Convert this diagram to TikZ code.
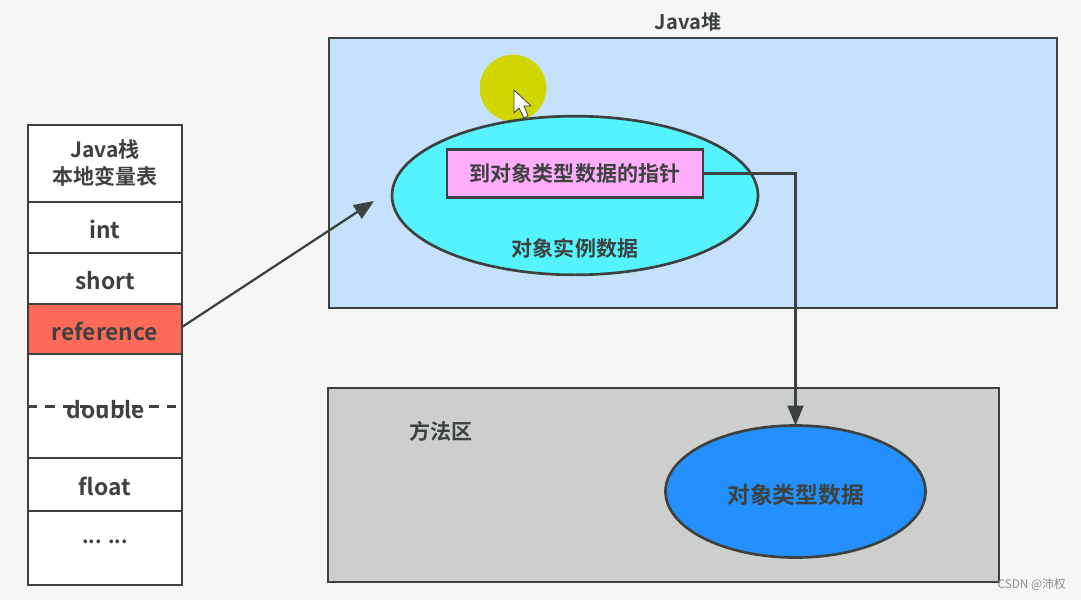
\documentclass[tikz,border=0pt]{standalone}
\usepackage{fontspec}
\setmainfont{Noto Sans CJK SC}[BoldFont={Noto Sans CJK SC Bold}]
\usetikzlibrary{arrows.meta,shapes.geometric}
\definecolor{bgc}{HTML}{F6F7F5}
\definecolor{ink}{HTML}{3E423F}
\definecolor{heap}{HTML}{C6E1FE}
\definecolor{method}{HTML}{CDCFCC}
\definecolor{cyanb}{HTML}{55F3FE}
\definecolor{pinkb}{HTML}{FEAEFC}
\definecolor{blueb}{HTML}{2490FD}
\definecolor{redb}{HTML}{FE6A59}
\definecolor{halo}{HTML}{CFD600}
\newcommand{\dnt}[1]{\raisebox{-1.5pt}[\height][\depth]{#1}}
\tikzset{
  x=0.75pt,y=-0.75pt,
  lbl/.style={text=ink,font=\fontsize{17bp}{20bp}\selectfont\bfseries,inner sep=0pt,align=center},
  cn/.style={text=ink,font=\fontsize{15.7bp}{19.5bp}\selectfont\bfseries,inner sep=0pt,align=center},
  cellbox/.style={draw=ink,line width=2.1pt,fill=white,minimum width=115.5pt,inner sep=0pt,outer sep=0pt,anchor=north west,text=ink,font=\fontsize{17bp}{20bp}\selectfont\bfseries,align=center},
  area/.style={draw=ink,line width=2.2pt,inner sep=0pt,outer sep=0pt},
  oval/.style={ellipse,draw=ink,line width=2pt,inner sep=0pt,outer sep=0pt},
  conn/.style={draw=ink,line width=1.7pt,-{Triangle[length=15pt,width=12pt]}}
}
\begin{document}
\begin{tikzpicture}
\fill[bgc] (0,0) rectangle (1081,600);
\useasboundingbox (0,0) rectangle (1081,600);
% heap
\node[area,fill=heap,minimum width=546pt,minimum height=202.5pt,anchor=north west] (heaparea) at (329,38) {};
\node[lbl,font=\fontsize{15bp}{18bp}\selectfont\bfseries] (heaptitle) at (688,22) {Java堆};
% highlight and cursor
\node[circle,fill=halo,minimum size=50pt,inner sep=0pt] (hl) at (513,88) {};
\node[oval,fill=cyanb,minimum width=274.5pt,minimum height=119pt] (inst) at (575,195.5) {};
\node[draw=ink,line width=2.2pt,fill=pinkb,minimum width=192pt,minimum height=36.5pt,inner sep=0pt,outer sep=0pt,cn] (ptr) at (575,173.5) {到对象类型数据的指针};
\node[cn] (instlbl) at (575,248) {对象实例数据};
\filldraw[fill=white,draw=black!75,line width=0.6pt,line join=round]
  (514,90) -- (514,113) -- (519,108) -- (524,118) -- (528,116) -- (524,106) -- (531,106) -- cycle;
% method area
\node[area,fill=method,minimum width=503.25pt,minimum height=145.5pt,anchor=north west] (marea) at (328,388) {};
\node[cn] (mlbl) at (441,431) {方法区};
\node[oval,fill=blueb,minimum width=195pt,minimum height=99pt] (klass) at (795.5,491.5) {};
\node[text=ink,font=\fontsize{17bp}{20bp}\selectfont\bfseries,inner sep=0pt] (klbl) at (795.5,495) {对象类型数据};
% stack
\node[cellbox,minimum height=57.75pt] (c0) at (28,125) {};
\node[cn] (c0t) at (105,163) {Java栈\\本地变量表};
\node[cellbox,minimum height=38.25pt] (c1) at (28,202) {\dnt{int}};
\node[cellbox,minimum height=38.25pt] (c2) at (28,253) {\dnt{short}};
\node[cellbox,fill=redb,minimum height=37.5pt] (c3) at (28,304) {\dnt{reference}};
\node[cellbox,minimum height=78pt] (c4) at (28,354) {};
\node[cellbox,minimum height=39.75pt] (c5) at (28,458) {\dnt{float}};
\node[cellbox,minimum height=55.5pt] (c6) at (28,511) {};
\node[lbl] (dbl) at (106,410) {double};
\node[lbl,font=\fontsize{15bp}{18bp}\selectfont\bfseries] (dots) at (105,542) {... ...};
\coordinate (dl) at (28,406.5);
\coordinate (dr) at (182,406.5);
\draw[ink,line width=1.9pt,dash pattern=on 7pt off 6pt] (dl) -- (dr);
% connectors
\coordinate (aend) at (374,201);
\draw[conn] (c3.east) ++(0,-2) -- (aend);
\draw[conn] (ptr.east) -| (klass.north);
% watermark
\node[text=black!45,font=\fontsize{8.8bp}{12bp}\selectfont,inner sep=0pt,anchor=east] (wm) at (1066,585) {CSDN @沛权};
\end{tikzpicture}
\end{document}
